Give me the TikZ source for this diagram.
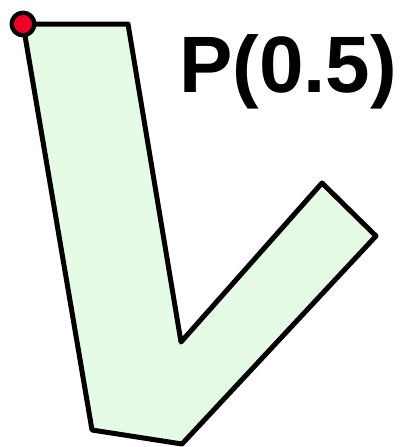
\documentclass[tikz,border=0pt]{standalone}
\usepackage{fontspec}
\setmainfont{Liberation Sans}
\usetikzlibrary{patterns}
\definecolor{paleGreen}{RGB}{236,252,236}
\definecolor{dotGreen}{RGB}{180,245,180}
\definecolor{pinRed}{RGB}{240,0,40}
\begin{document}
\begin{tikzpicture}[x=0.75pt, y=-0.75pt, line join=round, line cap=round]
	\useasboundingbox (0,0) rectangle (410,447);
	
	% Cac dinh cua hinh V
	\coordinate (A) at (23,24);
	\coordinate (B) at (128,24);
	\coordinate (C) at (181,342);
	\coordinate (D) at (322,183);
	\coordinate (E) at (376,236);
	\coordinate (F) at (182,444);
	\coordinate (G) at (92,430);
	
	% To mau hinh V
	\fill[paleGreen] (A) -- (B) -- (C) -- (D) -- (E) -- (F) -- (G) -- cycle;
	\fill[pattern=crosshatch dots, pattern color=dotGreen] (A) -- (B) -- (C) -- (D) -- (E) -- (F) -- (G) -- cycle;
	\draw[line width=3.75pt] (A) -- (B) -- (C) -- (D) -- (E) -- (F) -- (G) -- cycle;
	
	% Diem dau
	\filldraw[fill=pinRed, draw=black, line width=3.2pt] (A) circle [radius=8.5pt];
	
	% Nhan
	\node[anchor=base west, inner sep=0pt, font=\bfseries\fontsize{60}{60}\selectfont] (label) at (179,92) {P(0.5)};
\end{tikzpicture}
\end{document}
